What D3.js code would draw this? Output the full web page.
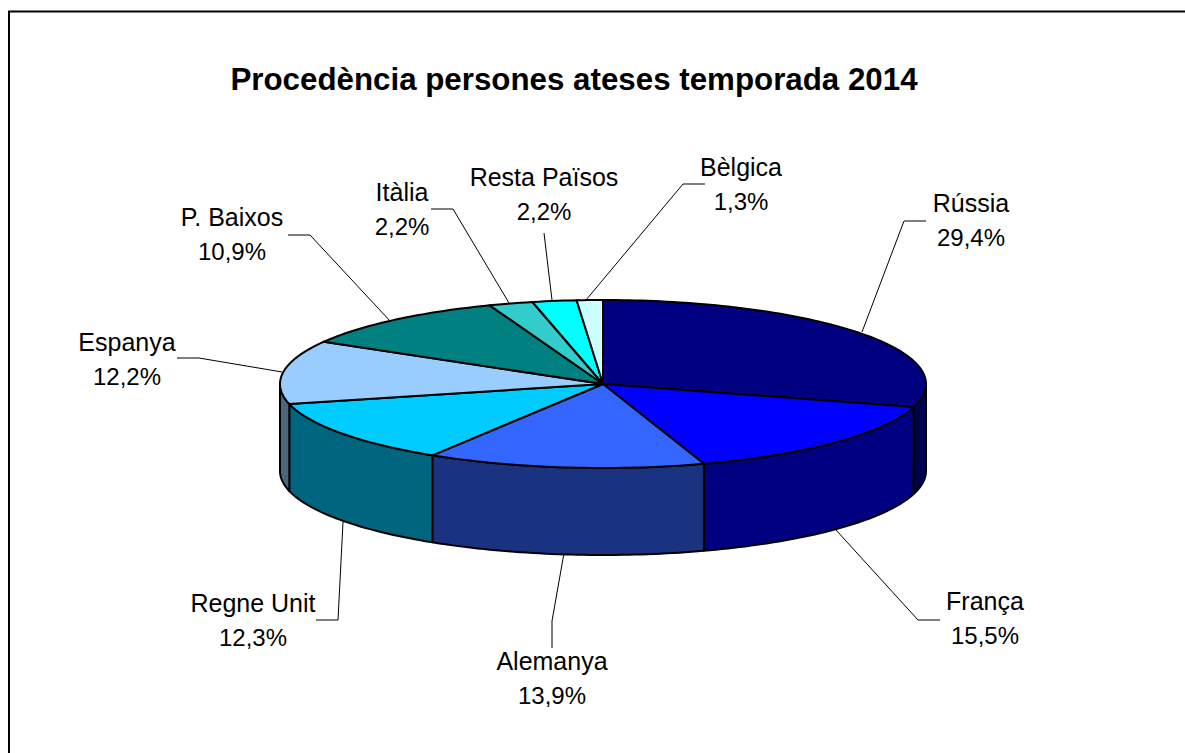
<!DOCTYPE html>
<html><head><meta charset="utf-8">
<script src="https://cdn.jsdelivr.net/npm/d3@7/dist/d3.min.js"></script>
<style>html,body{margin:0;background:#fff}svg{display:block}text{font-family:"Liberation Sans",Arial,sans-serif;fill:#000}</style>
</head><body>
<svg id="c" width="1185" height="753"></svg>
<script>
const title = "Procedència persones ateses temporada 2014";
const categories = ["Rússia","França","Alemanya","Regne Unit","Espanya","P. Baixos","Itàlia","Resta Països","Bèlgica"];
const values = [29.4,15.5,13.9,12.3,12.2,10.9,2.2,2.2,1.3];
const valueLabels = ["29,4%","15,5%","13,9%","12,3%","12,2%","10,9%","2,2%","2,2%","1,3%"];
const topColors = ["#000080","#0000ff","#3366ff","#00ccff","#99ccff","#008080","#33cccc","#00ffff","#ccffff"];
const sideColors = ["#000050","#000080","#1a3380","#006680","#4d6680","#004040","#1a6666","#008080","#668080"];
// label anchor centre (x, first-line baseline) per category
const labelX = [971,985,552,253,127,232,402,544,741];
const labelY = [212,610,670,612,351,226,201,186,176];
// leader polylines per category: [label end, elbow, rim point]
const leaders = [
 [[926,221],[904,221],[862,332]],
 [[940,620],[918,620],[836,530]],
 [[552,648],[552,621],[564,553]],
 [[316,620],[338,620],[343,522]],
 [[177,358],[199,358],[282,372]],
 [[288,235],[310,235],[391,322]],
 [[431,209],[453,209],[509,303]],
 [[544,233],[544,233],[552,300]],
 [[705,184],[683,184],[586,300]]
];

const cx=603, cy=384, rx=323, ry=84, depth=87;
const svg=d3.select("#c");
svg.append("path").attr("d","M9,753V11.4H1185").attr("fill","none").attr("stroke","#000").attr("stroke-width",2);
svg.append("text").attr("x",574).attr("y",90).attr("text-anchor","middle")
  .attr("font-size",31.3).attr("font-weight","bold").text(title);

const pie=d3.pie().sort(null).value(d=>d)(values);
const px=a=>cx+rx*Math.sin(a), py=a=>cy-ry*Math.cos(a);
const arcPts=(a0,a1,dy=0)=>{const n=Math.max(2,Math.ceil((a1-a0)/0.02));
  return d3.range(n+1).map(i=>{const a=a0+(a1-a0)*i/n;return [px(a),py(a)+dy];});};
const line=d3.line();

// leaders
const lg=svg.append("g");
leaders.forEach(l=>lg.append("path").attr("d",line(l)).attr("fill","none").attr("stroke","#000").attr("stroke-width",1));

// sides: only the front half (90°..270°) is visible
const side=svg.append("g");
pie.forEach((p,i)=>{
  const a0=Math.max(p.startAngle,Math.PI/2), a1=Math.min(p.endAngle,Math.PI*1.5);
  if(a1<=a0) return;
  const top=arcPts(a0,a1), bot=arcPts(a0,a1,depth).reverse();
  side.append("path").attr("d",line(top.concat(bot))+"Z").attr("fill",sideColors[i]).attr("stroke","#000").attr("stroke-width",2).attr("stroke-linejoin","round");
});
// slices
const tops=svg.append("g");
pie.forEach((p,i)=>{
  const pts=[[cx,cy]].concat(arcPts(p.startAngle,p.endAngle));
  tops.append("path").attr("d",line(pts)+"Z").attr("fill",topColors[i]).attr("stroke","#000").attr("stroke-width",2).attr("stroke-linejoin","round");
});
// labels
const tg=svg.append("g").attr("text-anchor","middle");
categories.forEach((c,i)=>{
  tg.append("text").attr("font-size",25).attr("x",labelX[i]).attr("y",labelY[i]).text(c);
  tg.append("text").attr("font-size",24).attr("x",labelX[i]).attr("y",labelY[i]+34).text(valueLabels[i]);
});
</script>
</body></html>
